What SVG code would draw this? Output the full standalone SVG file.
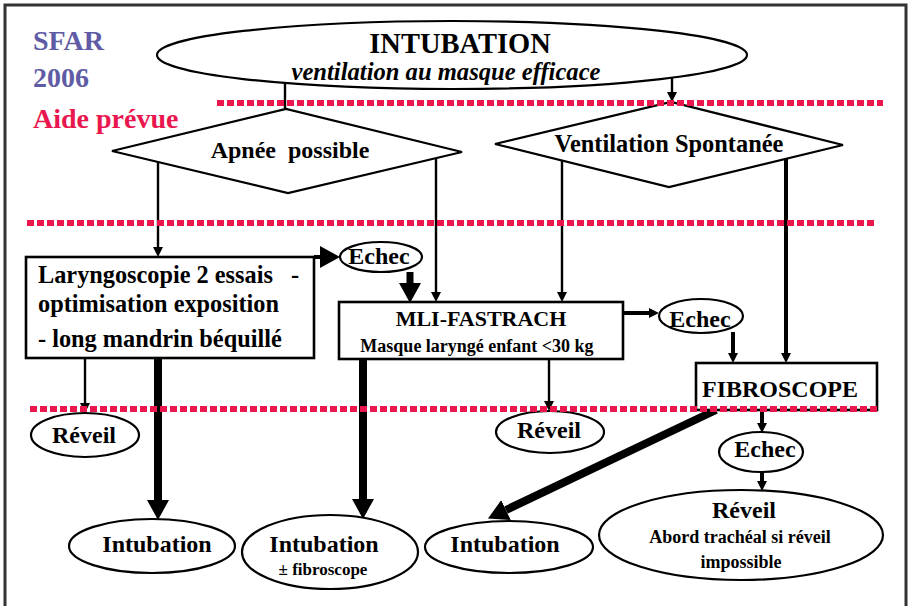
<svg xmlns="http://www.w3.org/2000/svg" width="909" height="606" viewBox="0 0 909 606">
  <style>
    text { font-family: "Liberation Serif", "Times New Roman", serif; font-weight: bold; fill: #000; }
    .c { text-anchor: middle; }
    .shape { fill: #fff; stroke: #000; stroke-width: 2.2; }
    .box { fill: #fff; stroke: #000; stroke-width: 2.6; }
    .thin { stroke: #000; stroke-width: 2.4; fill: none; }
    .mid { stroke: #000; stroke-width: 4; fill: none; }
    .thick { stroke: #000; stroke-width: 8; fill: none; }
    .sep { stroke: #E9174E; stroke-width: 6; stroke-dasharray: 7 3; fill: none; }
  </style>
  <defs>
    <marker id="head" markerUnits="userSpaceOnUse" markerWidth="12" markerHeight="12" refX="0" refY="6" orient="auto">
      <path d="M0,1 L10,6 L0,11 z" fill="#000"/>
    </marker>
    <marker id="bighead" markerUnits="userSpaceOnUse" markerWidth="22" markerHeight="24" refX="0" refY="12" orient="auto">
      <path d="M0,1 L20,12 L0,23 z" fill="#000"/>
    </marker>
  </defs>

  <!-- outer frame -->
  <rect x="5" y="5" width="901" height="640" fill="#fff" stroke="#333" stroke-width="3"/>

  <!-- header labels -->
  <g id="header">
    <text x="33" y="50" font-size="28" style="fill:#5F5CA5">SFAR</text>
    <text x="33" y="87" font-size="28" style="fill:#5F5CA5">2006</text>
    <text x="33" y="128" font-size="28" style="fill:#E9174E">Aide prévue</text>
  </g>

  <!-- connectors -->
  <g id="connectors">
    <line class="thin" x1="285" y1="83" x2="285" y2="109"/>
    <line class="thin" x1="672" y1="77" x2="672" y2="92" marker-end="url(#head)"/>
    <line class="thin" x1="158" y1="162" x2="158" y2="247" marker-end="url(#head)"/>
    <line class="thin" x1="436" y1="158" x2="436" y2="292" marker-end="url(#head)"/>
    <line class="thin" x1="562" y1="160" x2="562" y2="292" marker-end="url(#head)"/>
    <line class="mid" x1="786" y1="158" x2="786" y2="353" marker-end="url(#head)"/>
    <line class="mid" x1="314" y1="257" x2="320" y2="257" marker-end="url(#bighead)"/>
    <line stroke="#000" stroke-width="7" x1="410" y1="272" x2="410" y2="283" marker-end="url(#bighead)"/>
    <line class="thin" x1="85" y1="358" x2="85" y2="403" marker-end="url(#head)"/>
    <line class="thin" x1="549" y1="359" x2="549" y2="401" marker-end="url(#head)"/>
    <line class="mid" x1="623" y1="313" x2="649" y2="313" marker-end="url(#head)"/>
    <line class="mid" x1="733" y1="332" x2="733" y2="353" marker-end="url(#head)"/>
    <line class="mid" x1="762" y1="410" x2="762" y2="423" marker-end="url(#head)"/>
    <line class="mid" x1="762" y1="472" x2="762" y2="481" marker-end="url(#head)"/>
    <line class="thick" x1="158" y1="358" x2="158" y2="500" marker-end="url(#bighead)"/>
    <line class="thick" x1="363" y1="359" x2="363" y2="499" marker-end="url(#bighead)"/>
    <line class="thick" x1="716" y1="410" x2="506" y2="510" marker-end="url(#bighead)"/>
  </g>

  <!-- start node -->
  <g id="start">
    <ellipse class="shape" cx="452" cy="55" rx="295" ry="34"/>
    <text class="c" x="460" y="53" font-size="28.5">INTUBATION</text>
    <text class="c" x="446" y="80" font-size="24.6" font-style="italic">ventilation au masque efficace</text>
  </g>

  <g id="apnee">
    <polygon class="shape" points="112,151 286,109 462,152 288,193"/>
    <text class="c" x="290" y="158" font-size="24" xml:space="preserve">Apnée  possible</text>
  </g>

  <g id="vs">
    <polygon class="shape" points="495,144 671,102 843,145 669,187"/>
    <text class="c" x="669" y="152" font-size="24.4">Ventilation Spontanée</text>
  </g>

  <g id="laryngo">
    <rect class="box" x="26" y="257" width="288" height="101"/>
    <text x="38" y="283" font-size="24.3" xml:space="preserve">Laryngoscopie 2 essais   -</text>
    <text x="38" y="312" font-size="24.3">optimisation exposition</text>
    <text x="38" y="347" font-size="24.3">- long mandrin béquillé</text>
  </g>

  <g id="echec1">
    <ellipse class="shape" cx="381" cy="257" rx="41" ry="15"/>
    <text class="c" x="379" y="264" font-size="24">Echec</text>
  </g>

  <g id="mli">
    <rect class="box" x="339" y="302" width="284" height="57"/>
    <text class="c" x="481" y="326" font-size="22">MLI-FASTRACH</text>
    <text class="c" x="477" y="352" font-size="18">Masque laryngé enfant &lt;30 kg</text>
  </g>

  <g id="echec2">
    <ellipse class="shape" cx="701" cy="316" rx="42" ry="17"/>
    <text class="c" x="700" y="327" font-size="24">Echec</text>
  </g>

  <g id="fibro">
    <rect class="box" x="696" y="363" width="181" height="47"/>
    <text x="702" y="397" font-size="24">FIBROSCOPE</text>
  </g>

  <g id="reveil1">
    <ellipse class="shape" cx="85" cy="435" rx="54" ry="22"/>
    <text class="c" x="84" y="443" font-size="24">Réveil</text>
  </g>

  <g id="reveil2">
    <ellipse class="shape" cx="550" cy="432" rx="54" ry="21"/>
    <text class="c" x="549" y="438" font-size="24">Réveil</text>
  </g>

  <g id="echec3">
    <ellipse class="shape" cx="761" cy="452" rx="42" ry="20"/>
    <text class="c" x="765" y="457" font-size="24">Echec</text>
  </g>

  <g id="intubation1">
    <ellipse class="shape" cx="152" cy="546" rx="83" ry="27"/>
    <text class="c" x="157" y="552" font-size="24">Intubation</text>
  </g>

  <g id="intubation2">
    <ellipse class="shape" cx="330" cy="552" rx="88" ry="37"/>
    <text class="c" x="324" y="552" font-size="24">Intubation</text>
    <text class="c" x="323" y="575" font-size="17">± fibroscope</text>
  </g>

  <g id="intubation3">
    <ellipse class="shape" cx="509" cy="547" rx="84" ry="26"/>
    <text class="c" x="505" y="552" font-size="24">Intubation</text>
  </g>

  <g id="reveil3">
    <ellipse class="shape" cx="741" cy="535" rx="142" ry="45"/>
    <text class="c" x="744" y="518" font-size="24">Réveil</text>
    <text class="c" x="740" y="543" font-size="18">Abord trachéal si réveil</text>
    <text class="c" x="741" y="568" font-size="18">impossible</text>
  </g>

  <!-- separators -->
  <g id="separators">
    <line class="sep" x1="217" y1="103" x2="883" y2="103"/>
    <line class="sep" x1="27" y1="223" x2="877" y2="223"/>
    <line class="sep" x1="30" y1="409" x2="877" y2="409"/>
  </g>
</svg>
